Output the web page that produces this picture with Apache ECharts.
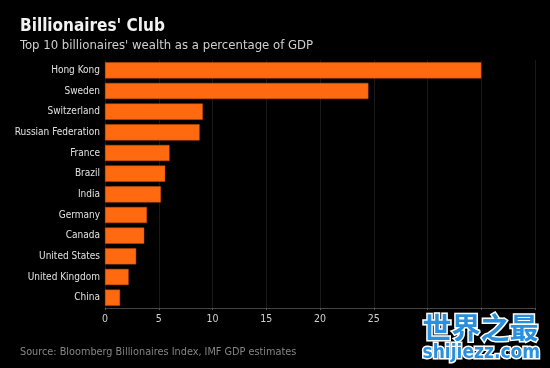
<!DOCTYPE html>
<html>
<head>
<meta charset="utf-8">
<style>
html,body{margin:0;padding:0;background:#000;}
#chart{width:550px;height:368px;}
</style>
<script src="https://cdn.jsdelivr.net/npm/echarts@6/dist/echarts.min.js"></script>
</head>
<body>
<div id="chart"></div>
<script>
const categories = ['Hong Kong','Sweden','Switzerland','Russian Federation','France','Brazil','India','Germany','Canada','United States','United Kingdom','China'];
const values = [35.0, 24.5, 9.1, 8.8, 6.0, 5.6, 5.2, 3.9, 3.65, 2.9, 2.2, 1.4];
const tickLabels = ['0','5','10','15','20','25'];

const chart = echarts.init(document.getElementById('chart'));
chart.setOption({
  backgroundColor: '#000',
  animation: false,
  title: [
    {text: "Billionaires' Club", left: 15, top: 13,
     textStyle: {color: '#f2f2f2', fontSize: 17, fontWeight: 'bold', fontFamily: 'DejaVu Sans Condensed'}},
    {text: "Top 10 billionaires' wealth as a percentage of GDP", left: 15, top: 34,
     textStyle: {color: '#cfcfcf', fontSize: 13, fontWeight: 'normal', fontFamily: 'DejaVu Sans Condensed'}},
    {text: 'Source: Bloomberg Billionaires Index, IMF GDP estimates', left: 15, top: 342,
     textStyle: {color: '#858585', fontSize: 10.8, fontWeight: 'normal', fontFamily: 'DejaVu Sans Condensed'}}
  ],
  grid: {left: 105, right: 15, top: 60, bottom: 60, containLabel: false},
  xAxis: {
    type: 'value', min: 0, max: 40, interval: 5,
    axisLine: {show: true, lineStyle: {color: '#444'}},
    axisTick: {show: true, length: 2, lineStyle: {color: '#555'}},
    axisLabel: {color: '#d0d0d0', fontSize: 10.5, fontFamily: 'DejaVu Sans Condensed', margin: 6,
      formatter: (v) => tickLabels[Math.round(v / 5)] || ''},
    splitLine: {show: true, lineStyle: {color: '#191919', width: 1}}
  },
  yAxis: {
    type: 'category', data: categories, inverse: true,
    axisLine: {show: false}, axisTick: {show: false},
    axisLabel: {color: '#e0e0e0', fontSize: 10, fontFamily: 'DejaVu Sans Condensed', margin: 5}
  },
  series: [{
    type: 'bar', data: values, barWidth: '78%',
    itemStyle: {color: '#ff6a10', borderColor: '#c85008', borderWidth: 0.5}
  }],
  graphic: [
    {type: 'text', left: 421, top: 312, z: 100,
     style: {text: '世界之最', fill: '#2a8fdc', stroke: '#ffffff', lineWidth: 3,
       font: 'bold 29px "Noto Sans CJK SC"'}},
    {type: 'text', left: 421, top: 342, z: 100,
     style: {text: 'shijiezz.com', fill: '#2a8fdc', stroke: '#ffffff', lineWidth: 3,
       font: 'bold 19px "DejaVu Sans Condensed"'}}
  ]
});
</script>
</body>
</html>
